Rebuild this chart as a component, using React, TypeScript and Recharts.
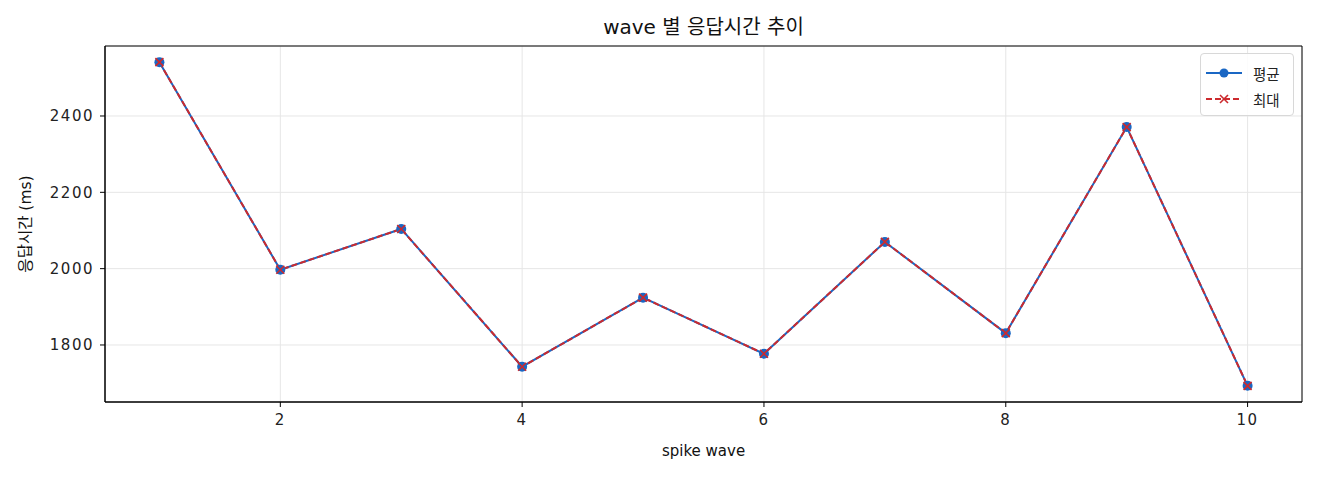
import { LineChart, Line, XAxis, YAxis, CartesianGrid, ReferenceArea } from 'recharts';

const waves = [1, 2, 3, 4, 5, 6, 7, 8, 9, 10];
const avgMs = [2541, 1997, 2104, 1743, 1924, 1777, 2070, 1831, 2371, 1693];
const maxMs = [2541, 1997, 2104, 1743, 1924, 1777, 2070, 1831, 2371, 1693];
const xTicks = [2, 4, 6, 8, 10];
const yTicks = [1800, 2000, 2200, 2400];

const data = waves.map((w, i) => ({ wave: w, avg: avgMs[i], max: maxMs[i] }));

const BLUE = '#1a67c4';
const RED = '#cc2a2e';
const FONT = '"DejaVu Sans", "Noto Sans CJK KR", sans-serif';

const X_DOMAIN: [number, number] = [0.55, 10.45];
const Y_DOMAIN: [number, number] = [1650.6, 2583.4];

const tickStyle = { fill: '#222', fontSize: 15, fontFamily: FONT, letterSpacing: 1.5 };

const CrossDot = (props: any) => {
  const { cx, cy } = props;
  if (cx == null || cy == null) return null;
  const s = 4;
  return (
    <g>
      <line x1={cx - s} y1={cy - s} x2={cx + s} y2={cy + s} stroke={RED} strokeWidth={1.6} />
      <line x1={cx - s} y1={cy + s} x2={cx + s} y2={cy - s} stroke={RED} strokeWidth={1.6} />
    </g>
  );
};

const LegendBox = () => (
  <div
    style={{
      position: 'absolute',
      left: 1200,
      top: 53,
      width: 94,
      height: 63,
      boxSizing: 'border-box',
      border: '1px solid #d8d8d8',
      borderRadius: 4,
      background: 'rgba(255,255,255,0.85)',
      padding: '6px 0 0 4px',
      fontFamily: FONT,
      fontSize: 14.5,
      color: '#222',
    }}
  >
    <div style={{ display: 'flex', alignItems: 'center', height: 26 }}>
      <svg width={38} height={12} style={{ marginRight: 10 }}>
        <line x1={1} y1={6} x2={37} y2={6} stroke={BLUE} strokeWidth={2} />
        <circle cx={19} cy={6} r={4.5} fill={BLUE} />
      </svg>
      <span>평균</span>
    </div>
    <div style={{ display: 'flex', alignItems: 'center', height: 26 }}>
      <svg width={38} height={12} style={{ marginRight: 10 }}>
        <line x1={1} y1={6} x2={37} y2={6} stroke={RED} strokeWidth={2} strokeDasharray="6 3" />
        <line x1={15} y1={2} x2={23} y2={10} stroke={RED} strokeWidth={1.6} />
        <line x1={15} y1={10} x2={23} y2={2} stroke={RED} strokeWidth={1.6} />
      </svg>
      <span>최대</span>
    </div>
  </div>
);

export default function App() {
  return (
    <div style={{ position: 'relative', width: 1320, height: 480, background: '#fff', fontFamily: FONT }}>
      <style>{`body{margin:0;}`}</style>
      <LineChart width={1320} height={480} data={data} margin={{ top: 46, right: 18, left: 0, bottom: 0 }}>
        <CartesianGrid stroke="#e6e6e6" strokeWidth={1} />
        <XAxis
          dataKey="wave"
          type="number"
          domain={X_DOMAIN}
          ticks={xTicks}
          allowDataOverflow
          height={78}
          stroke="#000"
          tickSize={5}
          tick={tickStyle}
          tickMargin={7}
        />
        <YAxis
          type="number"
          domain={Y_DOMAIN}
          ticks={yTicks}
          allowDataOverflow
          width={105}
          stroke="#000"
          tickSize={5}
          tick={tickStyle}
          tickMargin={6}
        />
        <ReferenceArea
          x1={X_DOMAIN[0]}
          x2={X_DOMAIN[1]}
          y1={Y_DOMAIN[0]}
          y2={Y_DOMAIN[1]}
          fill="none"
          stroke="#000"
          strokeWidth={1}
          ifOverflow="visible"
        />
        <Line
          type="linear"
          dataKey="avg"
          name="평균"
          stroke={BLUE}
          strokeWidth={2}
          dot={{ r: 5, fill: BLUE, stroke: BLUE, strokeWidth: 0 }}
          activeDot={false}
          isAnimationActive={false}
        />
        <Line
          type="linear"
          dataKey="max"
          name="최대"
          stroke={RED}
          strokeWidth={2}
          strokeDasharray="6 3"
          dot={<CrossDot />}
          activeDot={false}
          isAnimationActive={false}
        />
      </LineChart>
      <div
        style={{
          position: 'absolute',
          top: 15,
          left: 105,
          width: 1197,
          textAlign: 'center',
          fontSize: 20,
          lineHeight: '24px',
          color: '#111',
        }}
      >
        wave 별 응답시간 추이
      </div>
      <div
        style={{
          position: 'absolute',
          top: 441,
          left: 105,
          width: 1197,
          textAlign: 'center',
          fontSize: 15,
          lineHeight: '20px',
          color: '#111',
        }}
      >
        spike wave
      </div>
      <div
        style={{
          position: 'absolute',
          left: 26 - 80,
          top: 224 - 10,
          width: 160,
          height: 20,
          textAlign: 'center',
          fontSize: 15.5,
          lineHeight: '20px',
          color: '#111',
          transform: 'rotate(-90deg)',
          transformOrigin: '50% 50%',
        }}
      >
        응답시간 (ms)
      </div>
      <LegendBox />
    </div>
  );
}
